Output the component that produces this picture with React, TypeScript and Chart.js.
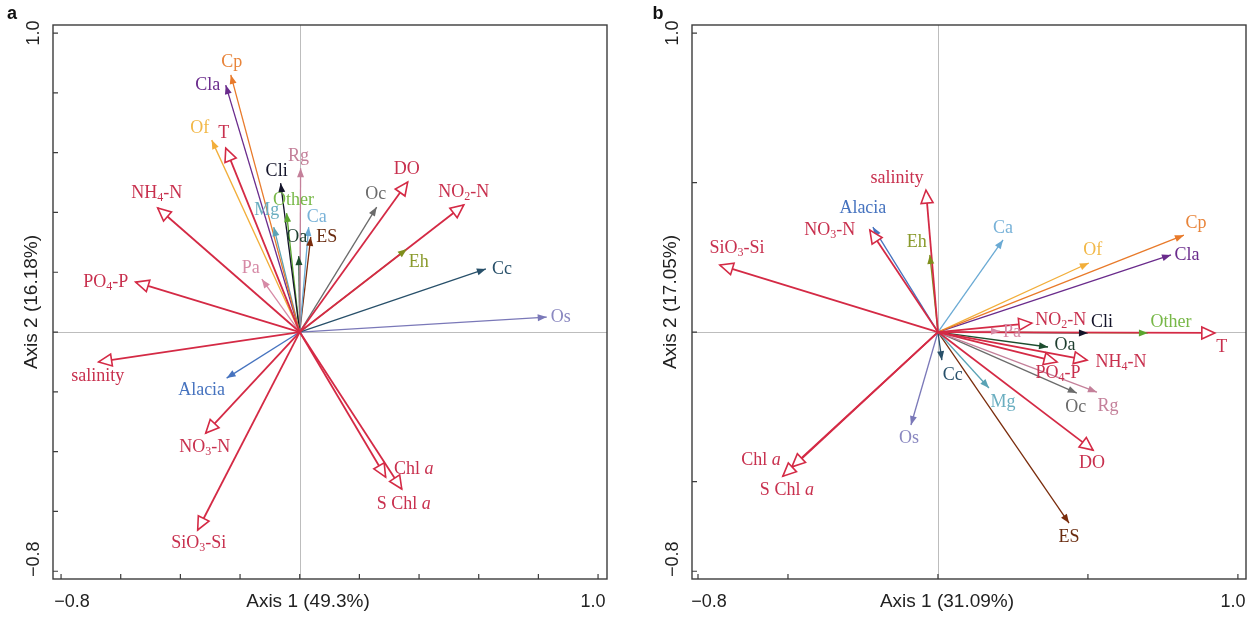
import React, { useEffect, useRef } from "react";
import { Chart, registerables } from "chart.js";
Chart.register(...registerables);

// ---------- data ----------
const speciesNames = ["Cp", "Cla", "Of", "Pa", "Mg", "Cli", "Other", "Rg", "Oa", "Ca", "ES", "Oc", "Eh", "Cc", "Os", "Alacia"];
const envNames = ["T", "NH_4-N", "PO_4-P", "DO", "NO_2-N", "salinity", "NO_3-N", "SiO_3-Si", "Chl *a*", "S Chl *a*"];

// panel a
const aSpeciesX = [-0.231, -0.248, -0.295, -0.127, -0.087, -0.064, -0.044, 0.003, -0.003, 0.030, 0.037, 0.258, 0.359, 0.624, 0.828, -0.245];
const aSpeciesY = [0.860, 0.826, 0.642, 0.177, 0.351, 0.498, 0.398, 0.548, 0.254, 0.351, 0.318, 0.418, 0.278, 0.211, 0.050, -0.154];
const aEnvX = [-0.248, -0.476, -0.550, 0.362, 0.550, -0.674, -0.315, -0.342, 0.288, 0.342];
const aEnvY = [0.615, 0.415, 0.167, 0.502, 0.425, -0.100, -0.338, -0.662, -0.485, -0.525];

// panel b
const bSpeciesX = [0.820, 0.777, 0.503, 0.207, 0.170, 0.500, 0.700, 0.530, 0.367, 0.217, 0.437, 0.463, -0.027, 0.013, -0.090, -0.217];
const bSpeciesY = [0.324, 0.258, 0.231, 0.003, -0.187, -0.003, -0.003, -0.201, -0.050, 0.308, -0.639, -0.204, 0.258, -0.094, -0.311, 0.351];
const bEnvX = [0.923, 0.497, 0.397, 0.517, 0.313, -0.040, -0.227, -0.727, -0.487, -0.517];
const bEnvY = [-0.003, -0.094, -0.100, -0.395, 0.030, 0.475, 0.341, 0.224, -0.451, -0.482];

const aTicks = [-0.8, -0.6, -0.4, -0.2, 0, 0.2, 0.4, 0.6, 0.8, 1.0];
const bTicks = [-0.8, -0.5, 0, 0.5, 1.0];
const tickLabelValues = [-0.8, 1.0];
const tickLabelTexts = ["\u22120.8", "1.0"];

// ---------- styles / layout ----------
const speciesColors = ["#e87a2a", "#6a2b8c", "#f2ae3a", "#d68aa6", "#5aa3b5", "#14142a", "#5aa52e", "#c4809a", "#1d4d2e", "#6aaad4", "#7a2c0c", "#6b6b6b", "#7f8f1c", "#28506a", "#7a78b8", "#4673bf"];
const speciesLabelColors = ["#e8843a", "#6a2b8c", "#f2b848", "#d68aa6", "#6aaec0", "#14142a", "#78b848", "#c4809a", "#1d3d2e", "#78b2d8", "#6a2c10", "#6b6b6b", "#8a9a2c", "#28506a", "#8a88c0", "#4673bf"];
const envColor = "#d42a45";
const envLabelColor = "#c8304e";

const aSpeciesOff = [[1, -13], [-18, 0], [-12, -12], [-11, -11], [-7, -17], [-4, -12], [7, -13], [-2, -12], [-2, -19], [8, -10], [16, 0], [-1, -13], [12, 13], [16, 0], [14, 0], [-25, 12]];
const aEnvOff = [[-2, -15], [-1, -15], [-30, 0], [-1, -13], [0, -13], [-1, 14], [-1, 14], [1, 13], [28, -8], [2, 15]];
const bSpeciesOff = [[12, -12], [16, 0], [4, -13], [12, 1], [14, 14], [14, -11], [23, -11], [11, 14], [17, -2], [0, -12], [0, 14], [-1, 14], [-13, -13], [11, 15], [-2, 13], [-10, -19]];
const bEnvOff = [[7, 14], [34, 2], [1, 11], [-1, 13], [29, -3], [-29, -12], [-40, 0], [17, -17], [-31, -7], [4, 14]];

type PanelDef = {
  letter: string;
  letterX: number;
  xTitle: string;
  yTitle: string;
  xMin: number; xMax: number; yMin: number; yMax: number;
  ticks: number[];
  padding: { left: number; right: number; top: number; bottom: number };
  sx: number[]; sy: number[]; ex: number[]; ey: number[];
  sOff: number[][]; eOff: number[][];
  width: number;
  left: number;
};

const panels: PanelDef[] = [
  {
    letter: "a", letterX: 12, xTitle: "Axis 1 (49.3%)", yTitle: "Axis 2 (16.18%)",
    xMin: -0.827, xMax: 1.03, yMin: -0.826, yMax: 1.027, ticks: aTicks,
    padding: { left: 53, right: 23, top: 25, bottom: 38 },
    sx: aSpeciesX, sy: aSpeciesY, ex: aEnvX, ey: aEnvY, sOff: aSpeciesOff, eOff: aEnvOff,
    width: 630, left: 0,
  },
  {
    letter: "b", letterX: 28, xTitle: "Axis 1 (31.09%)", yTitle: "Axis 2 (17.05%)",
    xMin: -0.82, xMax: 1.027, yMin: -0.826, yMax: 1.027, ticks: bTicks,
    padding: { left: 62, right: 7, top: 25, bottom: 38 },
    sx: bSpeciesX, sy: bSpeciesY, ex: bEnvX, ey: bEnvY, sOff: bSpeciesOff, eOff: bEnvOff,
    width: 623, left: 630,
  },
];

const SERIF = '"Liberation Serif", "Times New Roman", serif';
const SANS = '"Liberation Sans", Arial, sans-serif';
const LABEL_SIZE = 18;

type Seg = { t: string; sub: boolean; it: boolean };
function parseRich(text: string): Seg[] {
  const segs: Seg[] = [];
  let it = false;
  let cur = "";
  const flush = () => { if (cur) { segs.push({ t: cur, sub: false, it }); cur = ""; } };
  for (let i = 0; i < text.length; i++) {
    const c = text[i];
    if (c === "_") { flush(); segs.push({ t: text[i + 1], sub: true, it }); i++; }
    else if (c === "*") { flush(); it = !it; }
    else cur += c;
  }
  flush();
  return segs;
}

function drawRich(ctx: CanvasRenderingContext2D, text: string, x: number, y: number, size: number, color: string) {
  const segs = parseRich(text);
  const fontFor = (s: Seg) => `${s.it ? "italic " : ""}${s.sub ? Math.round(size * 0.64) : size}px ${SERIF}`;
  let w = 0;
  const widths = segs.map((s) => { ctx.font = fontFor(s); const m = ctx.measureText(s.t).width; w += m; return m; });
  let cx = x - w / 2;
  ctx.fillStyle = color;
  ctx.textAlign = "left";
  ctx.textBaseline = "middle";
  segs.forEach((s, i) => {
    ctx.font = fontFor(s);
    ctx.fillText(s.t, cx, s.sub ? y + size * 0.28 : y);
    cx += widths[i];
  });
}

function drawHead(ctx: CanvasRenderingContext2D, ox: number, oy: number, tx: number, ty: number, len: number, half: number, color: string, open: boolean) {
  const a = Math.atan2(ty - oy, tx - ox);
  const c = Math.cos(a), s = Math.sin(a);
  const bx = tx - len * c, by = ty - len * s;
  ctx.beginPath();
  ctx.moveTo(tx, ty);
  ctx.lineTo(bx - half * s, by + half * c);
  ctx.lineTo(bx + half * s, by - half * c);
  ctx.closePath();
  if (open) {
    ctx.fillStyle = "#ffffff";
    ctx.fill();
    ctx.strokeStyle = color;
    ctx.lineWidth = 1.6;
    ctx.lineJoin = "miter";
    ctx.stroke();
  } else {
    ctx.fillStyle = color;
    ctx.fill();
  }
}

function BiplotPanel({ p }: { p: PanelDef }) {
  const ref = useRef<HTMLCanvasElement | null>(null);
  useEffect(() => {
    if (!ref.current) return;
    const datasets: any[] = [];
    p.ex.forEach((x, i) => {
      datasets.push({
        label: envNames[i], data: [{ x: 0, y: 0 }, { x, y: p.ey[i] }],
        borderColor: envColor, borderWidth: 1.8, showLine: true, pointRadius: 0, fill: false,
      });
    });
    p.sx.forEach((x, i) => {
      datasets.push({
        label: speciesNames[i], data: [{ x: 0, y: 0 }, { x, y: p.sy[i] }],
        borderColor: speciesColors[i], borderWidth: 1.3, showLine: true, pointRadius: 0, fill: false,
      });
    });

    const plugin = {
      id: "biplot",
      beforeDatasetsDraw(chart: any) {
        const { ctx, chartArea: ca, scales } = chart;
        const x0 = scales.x.getPixelForValue(0);
        const y0 = scales.y.getPixelForValue(0);
        ctx.save();
        ctx.strokeStyle = "#bdbdbd";
        ctx.lineWidth = 1;
        ctx.beginPath();
        ctx.moveTo(Math.round(x0) + 0.5, ca.top); ctx.lineTo(Math.round(x0) + 0.5, ca.bottom);
        ctx.moveTo(ca.left, Math.round(y0) + 0.5); ctx.lineTo(ca.right, Math.round(y0) + 0.5);
        ctx.stroke();
        ctx.restore();
      },
      afterDatasetsDraw(chart: any) {
        const { ctx, scales } = chart;
        const ox = scales.x.getPixelForValue(0);
        const oy = scales.y.getPixelForValue(0);
        ctx.save();
        p.sx.forEach((x, i) => {
          const tx = scales.x.getPixelForValue(x), ty = scales.y.getPixelForValue(p.sy[i]);
          drawHead(ctx, ox, oy, tx, ty, 9, 3.5, speciesColors[i], false);
        });
        p.ex.forEach((x, i) => {
          const tx = scales.x.getPixelForValue(x), ty = scales.y.getPixelForValue(p.ey[i]);
          drawHead(ctx, ox, oy, tx, ty, 13, 6, envColor, true);
        });
        p.sx.forEach((x, i) => {
          const tx = scales.x.getPixelForValue(x), ty = scales.y.getPixelForValue(p.sy[i]);
          drawRich(ctx, speciesNames[i], tx + p.sOff[i][0], ty + p.sOff[i][1], LABEL_SIZE, speciesLabelColors[i]);
        });
        p.ex.forEach((x, i) => {
          const tx = scales.x.getPixelForValue(x), ty = scales.y.getPixelForValue(p.ey[i]);
          drawRich(ctx, envNames[i], tx + p.eOff[i][0], ty + p.eOff[i][1], LABEL_SIZE, envLabelColor);
        });
        ctx.restore();
      },
      afterDraw(chart: any) {
        const { ctx, chartArea: ca, scales } = chart;
        ctx.save();
        // frame
        ctx.strokeStyle = "#3c3c3c";
        ctx.lineWidth = 1.4;
        ctx.strokeRect(ca.left, ca.top, ca.right - ca.left, ca.bottom - ca.top);
        // ticks (inward)
        ctx.lineWidth = 1.2;
        ctx.beginPath();
        p.ticks.forEach((v) => {
          const px = scales.x.getPixelForValue(v);
          ctx.moveTo(px, ca.bottom); ctx.lineTo(px, ca.bottom - 5);
          const py = scales.y.getPixelForValue(v);
          ctx.moveTo(ca.left, py); ctx.lineTo(ca.left + 5, py);
        });
        ctx.stroke();
        // tick labels
        ctx.fillStyle = "#222";
        ctx.font = `18px ${SANS}`;
        ctx.textAlign = "center";
        ctx.textBaseline = "middle";
        tickLabelValues.forEach((v, i) => {
          const shift = v < 0 ? 11 : -5;
          const px = scales.x.getPixelForValue(v) + shift;
          ctx.fillText(tickLabelTexts[i], px, ca.bottom + 23);
          const py = scales.y.getPixelForValue(v) - (v < 0 ? 12 : 0);
          ctx.save();
          ctx.translate(ca.left - 19, py);
          ctx.rotate(-Math.PI / 2);
          ctx.fillText(tickLabelTexts[i], 0, 0);
          ctx.restore();
        });
        // axis titles
        ctx.font = `19px ${SANS}`;
        ctx.fillText(p.xTitle, (ca.left + ca.right) / 2 - 22, ca.bottom + 23);
        ctx.save();
        ctx.translate(ca.left - 21, (ca.top + ca.bottom) / 2);
        ctx.rotate(-Math.PI / 2);
        ctx.fillText(p.yTitle, 0, 0);
        ctx.restore();
        // panel letter
        ctx.font = `bold 18px ${SANS}`;
        ctx.fillStyle = "#111";
        ctx.fillText(p.letter, p.letterX, 14);
        ctx.restore();
      },
    };

    const chart = new Chart(ref.current, {
      type: "scatter",
      data: { datasets },
      options: {
        responsive: false,
        animation: false,
        events: [],
        layout: { padding: p.padding },
        plugins: { legend: { display: false }, tooltip: { enabled: false } },
        scales: {
          x: { type: "linear", min: p.xMin, max: p.xMax, display: false },
          y: { type: "linear", min: p.yMin, max: p.yMax, display: false },
        },
      },
      plugins: [plugin],
    } as any);
    return () => chart.destroy();
  }, [p]);
  return (
    <canvas
      ref={ref}
      width={p.width}
      height={617}
      style={{ position: "absolute", left: p.left, top: 0, width: p.width, height: 617, display: "block" }}
    />
  );
}

export default function App() {
  return (
    <div style={{ position: "absolute", left: 0, top: 0, width: 1253, height: 617, background: "#fff" }}>
      {panels.map((p) => (
        <BiplotPanel key={p.letter} p={p} />
      ))}
    </div>
  );
}
